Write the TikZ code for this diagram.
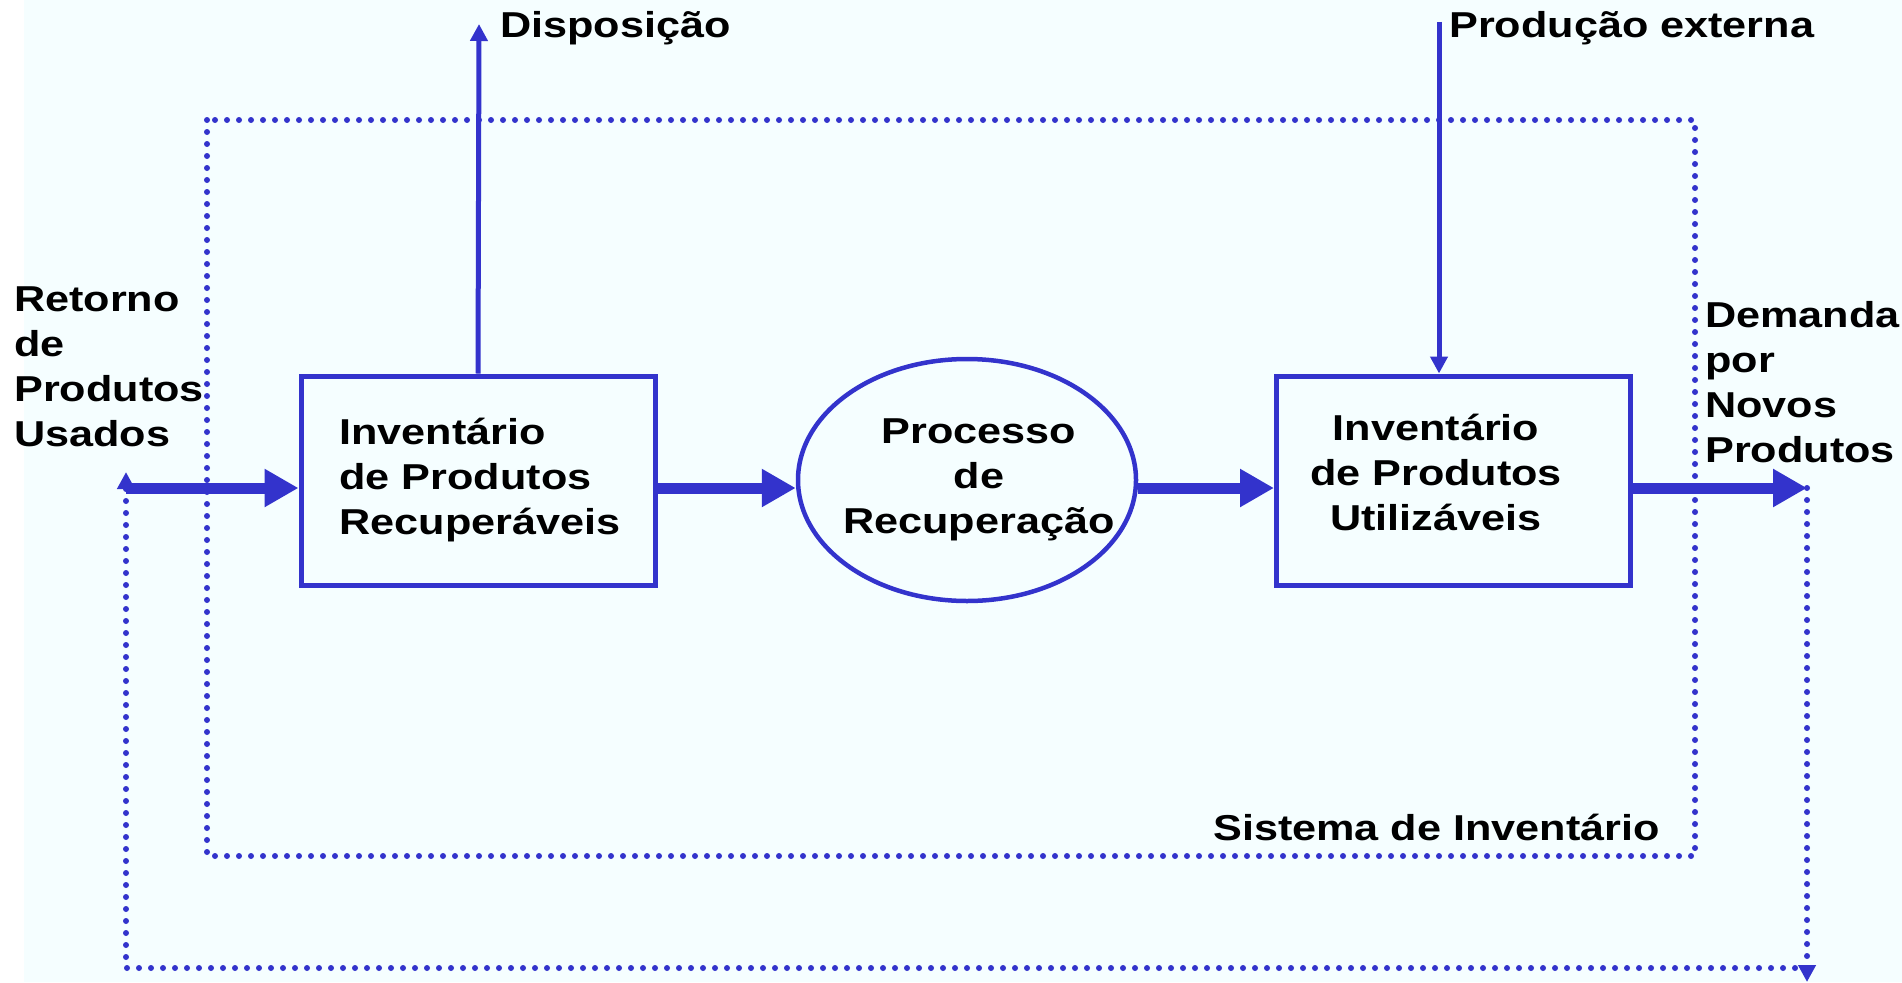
\documentclass[tikz,border=0pt]{standalone}
\usepackage{fontspec}
\usetikzlibrary{arrows.meta,shapes.geometric}
\newfontfamily\lblfont[FakeStretch=1.2]{Liberation Sans}
\definecolor{flowblue}{RGB}{51,51,204}
\definecolor{paper}{RGB}{245,254,255}
\tikzset{
  lbl/.style={font=\lblfont\bfseries\fontsize{36}{45}\selectfont, text=black, inner sep=0pt},
  invbox/.style={draw=flowblue, line width=5pt, rectangle, minimum width=354pt, minimum height=209pt, inner sep=0pt},
  procell/.style={draw=flowblue, line width=4.5pt, ellipse, minimum width=338pt, minimum height=242pt, inner sep=0pt},
  bigflow/.style={draw=flowblue, line width=11pt, -{Triangle[length=34pt,width=36pt]}},
  smallflow/.style={draw=flowblue, line width=5pt, -{Triangle[length=17pt,width=17pt]}},
  dotline/.style={draw=flowblue, line width=6pt, line cap=round, dash pattern=on 0pt off 12pt},
  dotflow/.style={dotline, -{Triangle[length=17pt,width=17pt]}}
}
\begin{document}
\begin{tikzpicture}[x=1pt,y=-1pt]
\useasboundingbox (0,0) rectangle (1902,982);
\fill[white] (0,0) rectangle (1902,982);
\fill[paper] (24,0) rectangle (1902,982);

% system boundary
\draw[dotline] (207,120) rectangle (1695,856);

% main nodes
\node[invbox] (b1) at (478,480.5) {};
\node[lbl, align=left] (b1t) at (480,480) {Inventário\\de Produtos\\Recuperáveis};
\node[procell] (proc) at (967,480) {};
\node[lbl, align=center] (proct) at (979,480) {Processo\\de\\Recuperação};
\node[invbox] (b2) at (1453.5,480.5) {};
\node[lbl, align=center] (b2t) at (1436,472) {Inventário\\de Produtos\\Utilizáveis};

% coordinates
\coordinate (retS) at (126,488);
\coordinate (retTip) at (126,472);
\coordinate (demE) at (1807,488);
\coordinate (bl) at (126,968);
\coordinate (br) at (1807,968);
\coordinate (brTip) at (1807,982);
\coordinate (dispT) at (479,24);
\coordinate (prodS) at (1439,22);

% outside labels
\node[lbl, anchor=west] (disp) at (500,28) {Disposição};
\node[lbl, anchor=west] (prod) at (1449,28) {Produção externa};
\node[lbl, align=left, anchor=west] (ret) at (14,367) {Retorno\\de\\Produtos\\Usados};
\node[lbl, align=left, anchor=west] (dem) at (1705,382) {Demanda\\por\\Novos\\Produtos};
\node[lbl, anchor=west] (sis) at (1213,827) {Sistema de Inventário};

% thin flows
\draw[smallflow] (b1.north) -- (dispT);
\draw[smallflow] (prodS) -- (prodS |- b2.north);

% dotted outer loop
\draw[dotflow] (demE) -- (brTip);
\draw[dotflow] (br) -- (bl) -- (retTip);

% thick flows
\draw[bigflow] (retS) -- (retS -| b1.west);
\draw[bigflow] (retS -| b1.east) -- (retS -| proc.west);
\draw[bigflow] (retS -| proc.east) -- (retS -| b2.west);
\draw[bigflow] (retS -| b2.east) -- (demE);
\end{tikzpicture}
\end{document}
